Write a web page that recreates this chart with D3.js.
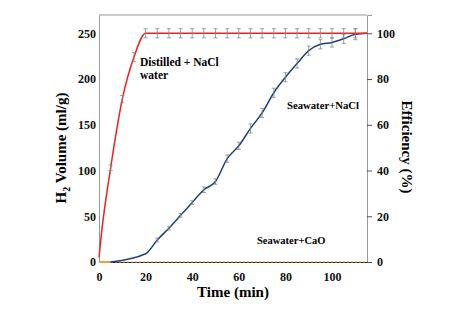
<!DOCTYPE html>
<html>
<head>
<meta charset="utf-8">
<script src="https://cdn.jsdelivr.net/npm/d3@7"></script>
<style>
  body { margin: 0; background: #fff; }
  text { font-family: "Liberation Serif", "Times New Roman", serif; font-weight: bold; }
</style>
</head>
<body>
<div id="chart"></div>
<script>
// data
const redTime = [0, 1, 5, 10, 15, 20, 25, 30, 35, 40, 45, 50, 55, 60, 65, 70, 75, 80, 85, 90, 95, 100, 105, 110, 115];
const redVol  = [5, 30, 103, 178, 224, 250, 250, 250, 250, 250, 250, 250, 250, 250, 250, 250, 250, 250, 250, 250, 250, 250, 250, 250, 250];
const redErr  = [0, 0, 3, 4, 5, 5, 5, 5, 5, 5, 5, 5, 5, 5, 5, 5, 5, 5, 5, 5, 5, 5, 5, 5, 0];

const blueTime = [5, 20, 25, 30, 35, 40, 45, 50, 55, 60, 65, 70, 75, 80, 85, 90, 95, 100, 105, 110, 115];
const blueVol  = [0, 9, 24, 37, 51, 65, 79, 88, 113, 127, 146, 163, 185, 202, 217, 231, 238, 240, 244, 249, 250];
const blueErr  = [0, 0, 2, 2, 2, 2, 3, 3, 4, 4, 5, 5, 5, 5, 5, 5, 5, 5, 5, 6, 0];

const orangeTime = [0, 5, 115];
const orangeVol  = [0, 0, 0];

const xTicks = [0, 20, 40, 60, 80, 100];
const yTicks = [0, 50, 100, 150, 200, 250];
const y2Ticks = [0, 20, 40, 60, 80, 100];

const W = 449, H = 319;
const margin = { top: 15, right: 82, bottom: 57, left: 99 };

const svg = d3.select("#chart").append("svg")
  .attr("width", W).attr("height", H);

const x = d3.scaleLinear().domain([0, 115]).range([margin.left, W - margin.right]);
const y = d3.scaleLinear().domain([0, 270]).range([H - margin.bottom, margin.top]);
const y2 = d3.scaleLinear().domain([0, 108]).range([H - margin.bottom, margin.top]);

// frame: top + left in gray
svg.append("line")
  .attr("x1", x(0)).attr("x2", x(115)).attr("y1", y(270)).attr("y2", y(270))
  .attr("stroke", "#999").attr("stroke-width", 1);

// left axis
const gy = svg.append("g")
  .attr("transform", `translate(${x(0)},0)`)
  .call(d3.axisLeft(y).tickValues(yTicks).tickSize(0).tickPadding(3));
gy.select(".domain").attr("stroke", "#999");
gy.selectAll("text").style("font-size", "12px").attr("fill", "#111");

// right axis
const gy2 = svg.append("g")
  .attr("transform", `translate(${x(115)},0)`)
  .call(d3.axisRight(y2).tickValues(y2Ticks).tickSize(5).tickPadding(5));
gy2.select(".domain").attr("stroke", "#999");
gy2.selectAll(".tick line").attr("stroke", "#555");
gy2.selectAll("text").style("font-size", "12px").attr("fill", "#111");

// bottom axis
const gx = svg.append("g")
  .attr("transform", `translate(0,${y(0)})`)
  .call(d3.axisBottom(x).tickValues(xTicks).tickSize(0).tickPadding(10));
gx.select(".domain").attr("stroke", "#222");
gx.selectAll("text").style("font-size", "12px").attr("fill", "#111");

// lines
const line = d3.line().x(d => x(d[0])).y(d => y(d[1])).curve(d3.curveMonotoneX);

svg.append("path")
  .datum(orangeTime.map((t, i) => [t, orangeVol[i]]))
  .attr("fill", "none").attr("stroke", "#f0a030").attr("stroke-width", 1.2)
  .attr("stroke-dasharray", "2,2")
  .attr("d", d3.line().x(d => x(d[0])).y(d => y(d[1])));
svg.append("path")
  .datum([[orangeTime[0], orangeVol[0]], [orangeTime[1], orangeVol[1]]])
  .attr("fill", "none").attr("stroke", "#f0a030").attr("stroke-width", 2)
  .attr("d", d3.line().x(d => x(d[0])).y(d => y(d[1])));

function errorBars(times, vals, errs) {
  const g = svg.append("g").attr("stroke", "#888").attr("stroke-width", 0.8);
  times.forEach((t, i) => {
    if (!errs[i]) return;
    const cx = x(t), top = y(vals[i] + errs[i]), bot = y(vals[i] - errs[i]);
    g.append("line").attr("x1", cx).attr("x2", cx).attr("y1", top).attr("y2", bot);
    g.append("line").attr("x1", cx - 2).attr("x2", cx + 2).attr("y1", top).attr("y2", top);
    g.append("line").attr("x1", cx - 2).attr("x2", cx + 2).attr("y1", bot).attr("y2", bot);
  });
}

svg.append("path")
  .datum(blueTime.map((t, i) => [t, blueVol[i]]))
  .attr("fill", "none").attr("stroke", "#1f3f80").attr("stroke-width", 1.5)
  .attr("d", line);
errorBars(blueTime, blueVol, blueErr);

svg.append("path")
  .datum(redTime.map((t, i) => [t, redVol[i]]))
  .attr("fill", "none").attr("stroke", "#ee2020").attr("stroke-width", 1.5)
  .attr("d", line);
errorBars(redTime, redVol, redErr);

// annotations
svg.append("text").attr("x", 140).attr("y", 66).style("font-size", "11.5px").text("Distilled + NaCl");
svg.append("text").attr("x", 140).attr("y", 79).style("font-size", "11.5px").text("water");
svg.append("text").attr("x", 287).attr("y", 109).style("font-size", "10.7px").text("Seawater+NaCl");
svg.append("text").attr("x", 257).attr("y", 244).style("font-size", "10.5px").text("Seawater+CaO");

// axis titles
svg.append("text")
  .attr("x", 233).attr("y", 297)
  .attr("text-anchor", "middle").style("font-size", "15px")
  .text("Time (min)");

const yl = svg.append("text")
  .attr("transform", `translate(66,148) rotate(-90)`)
  .attr("text-anchor", "middle").style("font-size", "15px");
yl.append("tspan").text("H");
yl.append("tspan").attr("dy", 4).style("font-size", "10px").text("2");
yl.append("tspan").attr("dy", -4).text(" Volume (ml/g)");

svg.append("text")
  .attr("transform", `translate(402,147) rotate(90)`)
  .attr("text-anchor", "middle").style("font-size", "15px")
  .text("Efficiency (%)");
</script>
</body>
</html>
